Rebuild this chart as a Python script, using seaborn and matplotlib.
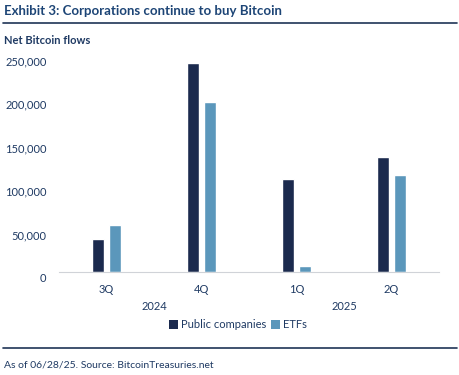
import matplotlib
matplotlib.use("Agg")
import matplotlib.pyplot as plt
import matplotlib.transforms as mtransforms
from matplotlib.lines import Line2D
from matplotlib.patches import Patch
import seaborn as sns
import pandas as pd

quarters = ["3Q", "4Q", "1Q", "2Q"]
years = ["2024", "2025"]
public_companies = [38000, 241000, 107000, 132500]
etfs = [54000, 196000, 7000, 112000]
series_names = ["Public companies", "ETFs"]

df = pd.DataFrame({
    "quarter": quarters * 2,
    "value": public_companies + etfs,
    "series": [series_names[0]] * 4 + [series_names[1]] * 4,
})

sns.set_theme(style="white")
plt.rcParams["font.family"] = ["Lato", "DejaVu Sans"]

navy = "#1b2a4e"
light = "#5b97bb"
text_c = "#1f3a63"

fig = plt.figure(figsize=(4.59, 3.75), dpi=100)
ax = fig.add_axes([59 / 459, 0.2747, 380 / 459, 0.602])

sns.barplot(data=df, x="quarter", y="value", hue="series", order=quarters,
            hue_order=series_names, palette=[navy, light], width=0.36, gap=0.3,
            ax=ax, legend=False, saturation=1)

ax.set_xlim(-0.5, 3.5)
ax.set_ylim(0, 260000)
ax.set_yticks([0, 50000, 100000, 150000, 200000, 250000])
ax.set_yticklabels([f"{v:,}" for v in [0, 50000, 100000, 150000, 200000, 250000]])
ax.set_xlabel("")
ax.set_ylabel("")
for s in ["top", "right", "left"]:
    ax.spines[s].set_visible(False)
ax.spines["bottom"].set_color("#d0d3d8")
ax.spines["bottom"].set_linewidth(0.8)
ax.tick_params(axis="both", length=0, labelsize=8, colors=text_c)
ax.tick_params(axis="y", pad=9)
ax.tick_params(axis="x", pad=8.5)
off = mtransforms.ScaledTranslation(0, -6 / 100, fig.dpi_scale_trans)
for lab in ax.get_yticklabels():
    lab.set_transform(lab.get_transform() + off)

trans = mtransforms.blended_transform_factory(ax.transData, fig.transFigure)
for xpos, yr in zip([0.5, 2.5], years):
    ax.text(xpos, 1 - 306 / 375, yr, transform=trans, ha="center", va="center",
            fontsize=8, color=text_c)

handles = [Patch(facecolor=navy, edgecolor="none"), Patch(facecolor=light, edgecolor="none")]
fig.legend(handles, series_names, loc="center", bbox_to_anchor=(238 / 459, 1 - 325 / 375),
           ncol=2, frameon=False, fontsize=8, handlelength=0.8, handleheight=0.8,
           handletextpad=0.3, columnspacing=0.4, labelcolor=text_c)

fig.text(4 / 459, 1 - 11 / 375, "Exhibit 3: Corporations continue to buy Bitcoin",
         fontsize=9.5, fontweight="bold", color="#1d4576", ha="left", va="center")
fig.add_artist(Line2D([3 / 459, 457 / 459], [1 - 22.5 / 375] * 2, color="#1f3556", lw=1.2))
fig.text(4 / 459, 1 - 40 / 375, "Net Bitcoin flows", fontsize=8, fontweight="bold",
         color=text_c, ha="left", va="center")
fig.add_artist(Line2D([3 / 459, 457 / 459], [1 - 348 / 375] * 2, color="#1f3556", lw=1.2))
fig.text(4 / 459, 1 - 365 / 375, "As of 06/28/25. Source: BitcoinTreasuries.net",
         fontsize=7.5, color=text_c, ha="left", va="center")

fig.savefig("out.png", dpi=100)
